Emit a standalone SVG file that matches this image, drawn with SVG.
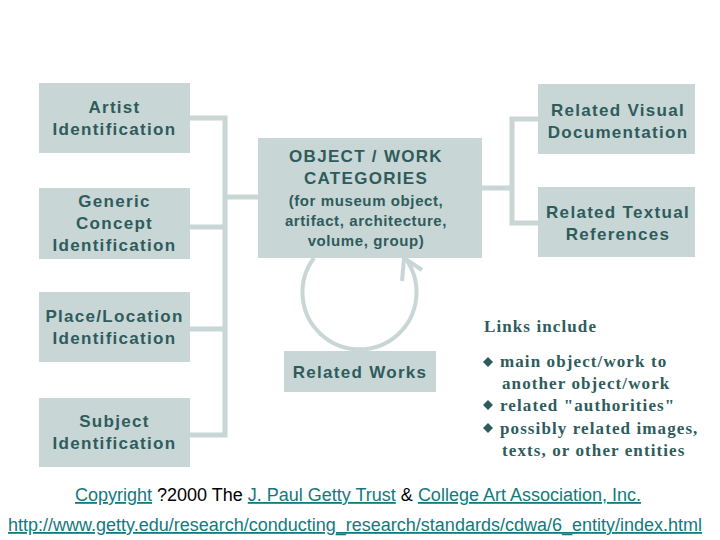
<svg xmlns="http://www.w3.org/2000/svg" width="720" height="540" viewBox="0 0 720 540">
<style>
.box{fill:#c9d6d6}
.t{font-family:"Liberation Sans",Arial,sans-serif;font-weight:bold;font-size:17px;letter-spacing:1.3px;fill:#2e5c5c;text-anchor:middle}
.s{font-size:15px;letter-spacing:0.6px}
.c{fill:none;stroke:#c9d6d6;stroke-width:5}
.arc{fill:none;stroke:#c9d6d6;stroke-width:4}
.l{font-family:"Liberation Serif","Times New Roman",serif;font-weight:bold;font-size:17px;letter-spacing:1.1px;fill:#2e5c5c}
.f{font-family:"Liberation Sans",Arial,sans-serif;font-size:18px;fill:#000;text-anchor:middle}
.a{fill:#14787e;text-decoration:underline}
</style>
<rect width="720" height="540" fill="#fff"/>
<g id="connectors">
<path class="c" d="M190 118H225M190 227H225M190 329H225M190 435H225M225 115.5V437.5M225 197H258"/>
<path class="c" d="M482 188H512M512 116.5V225.5M512 119H538M512 223H538"/>
<path class="arc" d="M314 258A57 57 0 1 0 405 258"/>
<path class="arc" d="M402 281L404 258L422 270"/>
</g>
<g id="artist"><rect class="box" x="39" y="83" width="151" height="70"/><text class="t" x="114.5" y="113">Artist</text><text class="t" x="114.5" y="135">Identification</text></g>
<g id="generic"><rect class="box" x="39" y="188" width="151" height="71"/><text class="t" x="114.5" y="207">Generic</text><text class="t" x="114.5" y="229">Concept</text><text class="t" x="114.5" y="251">Identification</text></g>
<g id="place"><rect class="box" x="39" y="292" width="151" height="70"/><text class="t" x="114.5" y="322">Place/Location</text><text class="t" x="114.5" y="344">Identification</text></g>
<g id="subject"><rect class="box" x="39" y="398" width="151" height="69"/><text class="t" x="114.5" y="427">Subject</text><text class="t" x="114.5" y="449">Identification</text></g>
<g id="object"><rect class="box" x="258" y="138" width="224" height="120"/><text class="t" x="366" y="162">OBJECT / WORK</text><text class="t" x="366" y="184">CATEGORIES</text><text class="t s" x="366" y="206">(for museum object,</text><text class="t s" x="366" y="226">artifact, architecture,</text><text class="t s" x="366" y="246">volume, group)</text></g>
<g id="visual"><rect class="box" x="538" y="84" width="157" height="70"/><text class="t" x="618" y="116">Related Visual</text><text class="t" x="618" y="138">Documentation</text></g>
<g id="textual"><rect class="box" x="538" y="187" width="157" height="70"/><text class="t" x="618" y="218">Related Textual</text><text class="t" x="618" y="240">References</text></g>
<g id="related-works"><rect class="box" x="284" y="351" width="152" height="41"/><text class="t" x="360" y="378">Related Works</text></g>
<g id="links">
<text class="l" x="484" y="332">Links include</text>
<polygon points="488,357 493,362 488,367 483,362" fill="#2e5c5c"/>
<polygon points="488,400 493,405 488,410 483,405" fill="#2e5c5c"/>
<polygon points="488,423 493,428 488,433 483,428" fill="#2e5c5c"/>
<text class="l" x="500" y="367">main object/work to</text>
<text class="l" x="502" y="389">another object/work</text>
<text class="l" x="500" y="411">related "authorities"</text>
<text class="l" x="500" y="434">possibly related images,</text>
<text class="l" x="502" y="456">texts, or other entities</text>
</g>
<g id="footer">
<text class="f" x="358" y="501"><tspan class="a">Copyright</tspan> ?2000 The <tspan class="a">J. Paul Getty Trust</tspan> &amp; <tspan class="a">College Art Association, Inc.</tspan></text>
<text class="f a" x="355" y="531">http://www.getty.edu/research/conducting_research/standards/cdwa/6_entity/index.html</text>
</g>
</svg>
